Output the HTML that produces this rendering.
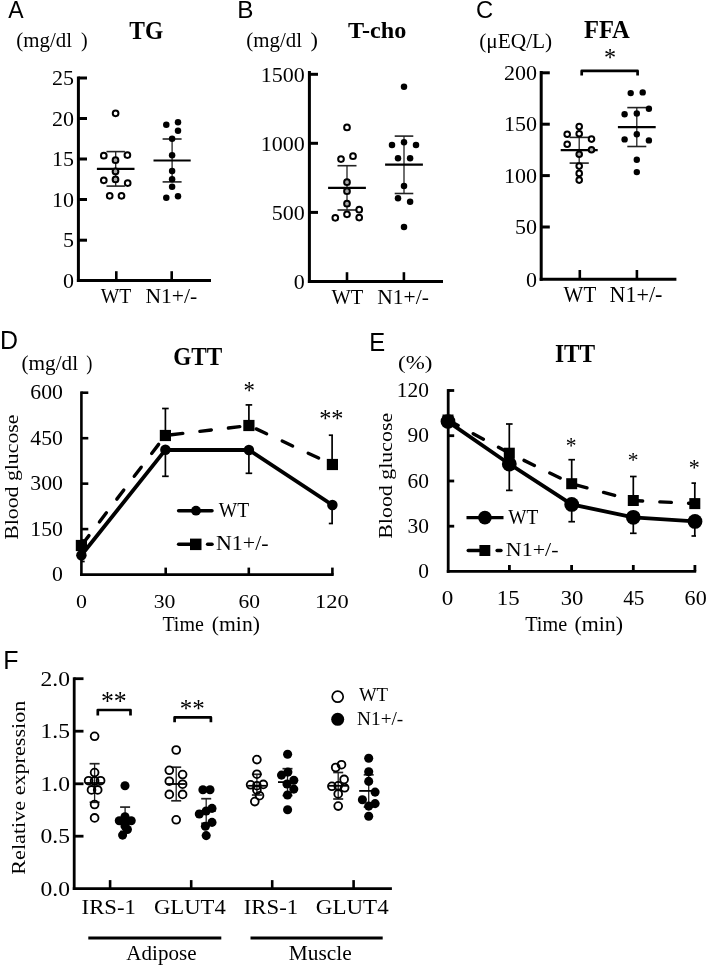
<!DOCTYPE html>
<html><head><meta charset="utf-8"><style>
html,body{margin:0;padding:0;background:#fff;}
body{width:708px;height:966px;overflow:hidden;}
svg{display:block;will-change:transform;}
text{fill:#000;}
</style></head><body>
<svg width="708" height="966" viewBox="0 0 708 966" stroke-linecap="butt">
<rect width="708" height="966" fill="#fff"/>
<text x="8.20" y="18.40" font-family="'Liberation Sans', sans-serif" font-size="24.78" textLength="15.35" lengthAdjust="spacingAndGlyphs">A</text>
<text x="16.36" y="47.20" font-family="'Liberation Serif', serif" font-size="20.00" textLength="55.68" lengthAdjust="spacingAndGlyphs">(mg/dl</text>
<text x="81.10" y="47.20" font-family="'Liberation Serif', serif" font-size="20.00">)</text>
<text x="129.35" y="38.86" font-family="'Liberation Serif', serif" font-size="24.48" font-weight="bold" textLength="33.95" lengthAdjust="spacingAndGlyphs">TG</text>
<line x1="78.40" y1="76.50" x2="78.40" y2="282.00" stroke="#000" stroke-width="3.0"/>
<line x1="76.90" y1="280.50" x2="211.00" y2="280.50" stroke="#000" stroke-width="3.0"/>
<line x1="78.40" y1="78.00" x2="87.00" y2="78.00" stroke="#000" stroke-width="3.0"/>
<text x="51.88" y="85.15" font-family="'Liberation Serif', serif" font-size="22.00">25</text>
<line x1="78.40" y1="118.50" x2="87.00" y2="118.50" stroke="#000" stroke-width="3.0"/>
<text x="51.88" y="125.70" font-family="'Liberation Serif', serif" font-size="22.00">20</text>
<line x1="78.40" y1="159.00" x2="87.00" y2="159.00" stroke="#000" stroke-width="3.0"/>
<text x="51.88" y="166.15" font-family="'Liberation Serif', serif" font-size="22.00">15</text>
<line x1="78.40" y1="199.50" x2="87.00" y2="199.50" stroke="#000" stroke-width="3.0"/>
<text x="51.88" y="206.71" font-family="'Liberation Serif', serif" font-size="22.00">10</text>
<line x1="78.40" y1="240.20" x2="87.00" y2="240.20" stroke="#000" stroke-width="3.0"/>
<text x="62.88" y="247.29" font-family="'Liberation Serif', serif" font-size="22.00">5</text>
<text x="62.88" y="287.70" font-family="'Liberation Serif', serif" font-size="22.00">0</text>
<line x1="116.30" y1="280.50" x2="116.30" y2="271.20" stroke="#000" stroke-width="2.6"/>
<line x1="171.70" y1="280.50" x2="171.70" y2="271.20" stroke="#000" stroke-width="2.6"/>
<text x="100.80" y="303.28" font-family="'Liberation Serif', serif" font-size="21.64" textLength="30.59" lengthAdjust="spacingAndGlyphs">WT</text>
<text x="145.45" y="303.38" font-family="'Liberation Serif', serif" font-size="21.64">N1+/-</text>
<line x1="115.70" y1="151.60" x2="115.70" y2="186.10" stroke="#222" stroke-width="1.3"/>
<line x1="106.50" y1="151.60" x2="124.90" y2="151.60" stroke="#222" stroke-width="1.6"/>
<line x1="106.50" y1="186.10" x2="124.90" y2="186.10" stroke="#222" stroke-width="1.6"/>
<line x1="96.90" y1="168.80" x2="134.50" y2="168.80" stroke="#000" stroke-width="2.2"/>
<circle cx="115.60" cy="113.30" r="2.85" fill="none" stroke="#000" stroke-width="2.0"/>
<circle cx="103.80" cy="155.70" r="2.85" fill="none" stroke="#000" stroke-width="2.0"/>
<circle cx="127.40" cy="155.10" r="2.85" fill="none" stroke="#000" stroke-width="2.0"/>
<circle cx="115.50" cy="160.20" r="2.85" fill="#aaa" stroke="#000" stroke-width="2.0"/>
<circle cx="115.50" cy="171.40" r="2.85" fill="#aaa" stroke="#000" stroke-width="2.0"/>
<circle cx="115.50" cy="179.40" r="2.85" fill="#aaa" stroke="#000" stroke-width="2.0"/>
<circle cx="103.80" cy="180.30" r="2.85" fill="none" stroke="#000" stroke-width="2.0"/>
<circle cx="127.70" cy="183.10" r="2.85" fill="none" stroke="#000" stroke-width="2.0"/>
<circle cx="109.70" cy="195.80" r="2.85" fill="none" stroke="#000" stroke-width="2.0"/>
<circle cx="121.50" cy="195.80" r="2.85" fill="none" stroke="#000" stroke-width="2.0"/>
<line x1="172.10" y1="139.00" x2="172.10" y2="181.90" stroke="#222" stroke-width="1.3"/>
<line x1="162.60" y1="139.00" x2="181.60" y2="139.00" stroke="#222" stroke-width="1.6"/>
<line x1="162.60" y1="181.90" x2="181.60" y2="181.90" stroke="#222" stroke-width="1.6"/>
<line x1="153.50" y1="160.50" x2="190.70" y2="160.50" stroke="#000" stroke-width="2.2"/>
<circle cx="166.30" cy="124.80" r="3.25" fill="#000" stroke="none" stroke-width="0"/>
<circle cx="178.00" cy="122.30" r="3.25" fill="#000" stroke="none" stroke-width="0"/>
<circle cx="178.00" cy="130.80" r="3.25" fill="#000" stroke="none" stroke-width="0"/>
<circle cx="172.10" cy="138.80" r="3.25" fill="#000" stroke="none" stroke-width="0"/>
<circle cx="172.10" cy="155.20" r="3.25" fill="#000" stroke="none" stroke-width="0"/>
<circle cx="172.10" cy="170.90" r="3.25" fill="#000" stroke="none" stroke-width="0"/>
<circle cx="172.10" cy="179.30" r="3.25" fill="#000" stroke="none" stroke-width="0"/>
<circle cx="172.10" cy="186.70" r="3.25" fill="#000" stroke="none" stroke-width="0"/>
<circle cx="166.30" cy="197.70" r="3.25" fill="#000" stroke="none" stroke-width="0"/>
<circle cx="178.00" cy="196.30" r="3.25" fill="#000" stroke="none" stroke-width="0"/>
<text x="237.36" y="18.40" font-family="'Liberation Sans', sans-serif" font-size="24.78" textLength="16.21" lengthAdjust="spacingAndGlyphs">B</text>
<text x="246.36" y="46.88" font-family="'Liberation Serif', serif" font-size="20.55" textLength="55.68" lengthAdjust="spacingAndGlyphs">(mg/dl</text>
<text x="310.43" y="46.88" font-family="'Liberation Serif', serif" font-size="20.55" textLength="7.43" lengthAdjust="spacingAndGlyphs">)</text>
<text x="348.04" y="37.97" font-family="'Liberation Serif', serif" font-size="23.12" font-weight="bold" textLength="58.29" lengthAdjust="spacingAndGlyphs">T-cho</text>
<line x1="309.40" y1="71.00" x2="309.40" y2="283.00" stroke="#000" stroke-width="3.0"/>
<line x1="307.90" y1="281.50" x2="443.00" y2="281.50" stroke="#000" stroke-width="3.0"/>
<line x1="309.40" y1="74.30" x2="318.00" y2="74.30" stroke="#000" stroke-width="3.0"/>
<text x="260.68" y="81.50" font-family="'Liberation Serif', serif" font-size="22.00">1500</text>
<line x1="309.40" y1="143.30" x2="318.00" y2="143.30" stroke="#000" stroke-width="3.0"/>
<text x="260.68" y="150.51" font-family="'Liberation Serif', serif" font-size="22.00">1000</text>
<line x1="309.40" y1="212.40" x2="318.00" y2="212.40" stroke="#000" stroke-width="3.0"/>
<text x="271.68" y="219.61" font-family="'Liberation Serif', serif" font-size="22.00">500</text>
<text x="293.68" y="288.70" font-family="'Liberation Serif', serif" font-size="22.00">0</text>
<line x1="347.00" y1="281.50" x2="347.00" y2="272.20" stroke="#000" stroke-width="2.6"/>
<line x1="403.90" y1="281.50" x2="403.90" y2="272.20" stroke="#000" stroke-width="2.6"/>
<text x="331.40" y="304.28" font-family="'Liberation Serif', serif" font-size="21.49" textLength="31.80" lengthAdjust="spacingAndGlyphs">WT</text>
<text x="377.35" y="304.39" font-family="'Liberation Serif', serif" font-size="21.49">N1+/-</text>
<line x1="347.00" y1="165.70" x2="347.00" y2="210.00" stroke="#222" stroke-width="1.3"/>
<line x1="337.50" y1="165.70" x2="356.50" y2="165.70" stroke="#222" stroke-width="1.6"/>
<line x1="337.50" y1="210.00" x2="356.50" y2="210.00" stroke="#222" stroke-width="1.6"/>
<line x1="328.10" y1="187.90" x2="365.90" y2="187.90" stroke="#000" stroke-width="2.2"/>
<circle cx="347.00" cy="127.40" r="2.85" fill="none" stroke="#000" stroke-width="2.0"/>
<circle cx="341.00" cy="159.10" r="2.85" fill="none" stroke="#000" stroke-width="2.0"/>
<circle cx="353.00" cy="156.20" r="2.85" fill="none" stroke="#000" stroke-width="2.0"/>
<circle cx="347.00" cy="182.20" r="2.85" fill="#aaa" stroke="#000" stroke-width="2.0"/>
<circle cx="347.00" cy="191.20" r="2.85" fill="#aaa" stroke="#000" stroke-width="2.0"/>
<circle cx="347.00" cy="203.70" r="2.85" fill="#aaa" stroke="#000" stroke-width="2.0"/>
<circle cx="347.00" cy="214.30" r="2.85" fill="none" stroke="#000" stroke-width="2.0"/>
<circle cx="335.30" cy="217.80" r="2.85" fill="none" stroke="#000" stroke-width="2.0"/>
<circle cx="359.20" cy="209.70" r="2.85" fill="none" stroke="#000" stroke-width="2.0"/>
<circle cx="359.20" cy="217.60" r="2.85" fill="none" stroke="#000" stroke-width="2.0"/>
<line x1="404.00" y1="136.10" x2="404.00" y2="193.50" stroke="#222" stroke-width="1.3"/>
<line x1="394.70" y1="136.10" x2="413.30" y2="136.10" stroke="#222" stroke-width="1.6"/>
<line x1="394.70" y1="193.50" x2="413.30" y2="193.50" stroke="#222" stroke-width="1.6"/>
<line x1="385.10" y1="164.60" x2="422.90" y2="164.60" stroke="#000" stroke-width="2.2"/>
<circle cx="404.00" cy="86.70" r="3.25" fill="#000" stroke="none" stroke-width="0"/>
<circle cx="392.00" cy="144.90" r="3.25" fill="#000" stroke="none" stroke-width="0"/>
<circle cx="404.00" cy="142.20" r="3.25" fill="#000" stroke="none" stroke-width="0"/>
<circle cx="416.00" cy="144.90" r="3.25" fill="#000" stroke="none" stroke-width="0"/>
<circle cx="398.00" cy="158.20" r="3.25" fill="#000" stroke="none" stroke-width="0"/>
<circle cx="410.10" cy="158.20" r="3.25" fill="#000" stroke="none" stroke-width="0"/>
<circle cx="404.00" cy="186.10" r="3.25" fill="#000" stroke="none" stroke-width="0"/>
<circle cx="398.00" cy="198.30" r="3.25" fill="#000" stroke="none" stroke-width="0"/>
<circle cx="410.10" cy="201.80" r="3.25" fill="#000" stroke="none" stroke-width="0"/>
<circle cx="404.00" cy="227.10" r="3.25" fill="#000" stroke="none" stroke-width="0"/>
<text x="476.01" y="18.45" font-family="'Liberation Sans', sans-serif" font-size="24.51" textLength="17.17" lengthAdjust="spacingAndGlyphs">C</text>
<text x="479.24" y="47.52" font-family="'Liberation Serif', serif" font-size="21.32">(μEQ/L)</text>
<text x="583.93" y="38.10" font-family="'Liberation Serif', serif" font-size="24.55" font-weight="bold">FFA</text>
<text x="603.89" y="66.15" font-family="'Liberation Serif', serif" font-size="24.66" textLength="12.12" lengthAdjust="spacingAndGlyphs">*</text>
<path d="M581.7,75.6 L581.7,70.9 L637.6,70.9 L637.6,75.6" stroke="#000" stroke-width="2.7" fill="none" stroke-linejoin="round"/>
<line x1="541.20" y1="71.00" x2="541.20" y2="280.80" stroke="#000" stroke-width="3.0"/>
<line x1="539.70" y1="279.30" x2="676.40" y2="279.30" stroke="#000" stroke-width="3.0"/>
<line x1="541.20" y1="72.80" x2="549.80" y2="72.80" stroke="#000" stroke-width="3.0"/>
<text x="504.08" y="80.00" font-family="'Liberation Serif', serif" font-size="22.00">200</text>
<line x1="541.20" y1="124.20" x2="549.80" y2="124.20" stroke="#000" stroke-width="3.0"/>
<text x="504.08" y="131.41" font-family="'Liberation Serif', serif" font-size="22.00">150</text>
<line x1="541.20" y1="175.60" x2="549.80" y2="175.60" stroke="#000" stroke-width="3.0"/>
<text x="504.08" y="182.81" font-family="'Liberation Serif', serif" font-size="22.00">100</text>
<line x1="541.20" y1="227.00" x2="549.80" y2="227.00" stroke="#000" stroke-width="3.0"/>
<text x="515.08" y="234.21" font-family="'Liberation Serif', serif" font-size="22.00">50</text>
<text x="526.08" y="286.50" font-family="'Liberation Serif', serif" font-size="22.00">0</text>
<line x1="579.80" y1="279.30" x2="579.80" y2="270.00" stroke="#000" stroke-width="2.6"/>
<line x1="636.90" y1="279.30" x2="636.90" y2="270.00" stroke="#000" stroke-width="2.6"/>
<text x="563.60" y="301.96" font-family="'Liberation Serif', serif" font-size="22.54" textLength="32.61" lengthAdjust="spacingAndGlyphs">WT</text>
<text x="609.54" y="302.07" font-family="'Liberation Serif', serif" font-size="22.54" textLength="52.88" lengthAdjust="spacingAndGlyphs">N1+/-</text>
<line x1="579.20" y1="137.40" x2="579.20" y2="163.10" stroke="#222" stroke-width="1.3"/>
<line x1="569.60" y1="137.40" x2="588.80" y2="137.40" stroke="#222" stroke-width="1.6"/>
<line x1="569.60" y1="163.10" x2="588.80" y2="163.10" stroke="#222" stroke-width="1.6"/>
<line x1="560.70" y1="150.10" x2="597.70" y2="150.10" stroke="#000" stroke-width="2.2"/>
<circle cx="579.20" cy="126.60" r="2.80" fill="none" stroke="#000" stroke-width="2.0"/>
<circle cx="567.20" cy="134.30" r="2.80" fill="none" stroke="#000" stroke-width="2.0"/>
<circle cx="579.20" cy="133.80" r="2.80" fill="none" stroke="#000" stroke-width="2.0"/>
<circle cx="591.50" cy="139.10" r="2.80" fill="none" stroke="#000" stroke-width="2.0"/>
<circle cx="567.20" cy="144.30" r="2.80" fill="none" stroke="#000" stroke-width="2.0"/>
<circle cx="591.50" cy="149.80" r="2.80" fill="#aaa" stroke="#000" stroke-width="2.0"/>
<circle cx="579.20" cy="154.20" r="2.80" fill="#aaa" stroke="#000" stroke-width="2.0"/>
<circle cx="579.20" cy="166.10" r="2.80" fill="none" stroke="#000" stroke-width="2.0"/>
<circle cx="579.20" cy="173.40" r="2.80" fill="none" stroke="#000" stroke-width="2.0"/>
<circle cx="579.20" cy="180.10" r="2.80" fill="none" stroke="#000" stroke-width="2.0"/>
<line x1="636.80" y1="107.60" x2="636.80" y2="146.50" stroke="#222" stroke-width="1.3"/>
<line x1="627.30" y1="107.60" x2="646.30" y2="107.60" stroke="#222" stroke-width="1.6"/>
<line x1="627.30" y1="146.50" x2="646.30" y2="146.50" stroke="#222" stroke-width="1.6"/>
<line x1="617.90" y1="127.10" x2="655.70" y2="127.10" stroke="#000" stroke-width="2.2"/>
<circle cx="630.70" cy="93.10" r="3.20" fill="#000" stroke="none" stroke-width="0"/>
<circle cx="642.70" cy="92.40" r="3.20" fill="#000" stroke="none" stroke-width="0"/>
<circle cx="648.90" cy="108.80" r="3.20" fill="#000" stroke="none" stroke-width="0"/>
<circle cx="624.60" cy="114.30" r="3.20" fill="#000" stroke="none" stroke-width="0"/>
<circle cx="636.80" cy="113.50" r="3.20" fill="#000" stroke="none" stroke-width="0"/>
<circle cx="624.60" cy="139.40" r="3.20" fill="#000" stroke="none" stroke-width="0"/>
<circle cx="636.80" cy="134.20" r="3.20" fill="#000" stroke="none" stroke-width="0"/>
<circle cx="648.90" cy="140.40" r="3.20" fill="#000" stroke="none" stroke-width="0"/>
<circle cx="636.80" cy="159.80" r="3.20" fill="#000" stroke="none" stroke-width="0"/>
<circle cx="636.80" cy="172.10" r="3.20" fill="#000" stroke="none" stroke-width="0"/>
<text x="0.10" y="348.60" font-family="'Liberation Sans', sans-serif" font-size="24.93">D</text>
<text x="21.44" y="370.13" font-family="'Liberation Serif', serif" font-size="20.77" textLength="56.61" lengthAdjust="spacingAndGlyphs">(mg/dl</text>
<text x="86.25" y="370.13" font-family="'Liberation Serif', serif" font-size="20.77" textLength="6.15" lengthAdjust="spacingAndGlyphs">)</text>
<text x="173.14" y="364.96" font-family="'Liberation Serif', serif" font-size="24.48" font-weight="bold" textLength="49.05" lengthAdjust="spacingAndGlyphs">GTT</text>
<line x1="81.40" y1="391.40" x2="81.40" y2="575.90" stroke="#000" stroke-width="2.6"/>
<line x1="80.10" y1="574.60" x2="333.70" y2="574.60" stroke="#000" stroke-width="2.6"/>
<line x1="81.40" y1="392.70" x2="88.30" y2="392.70" stroke="#000" stroke-width="2.6"/>
<text x="30.29" y="399.35" font-family="'Liberation Serif', serif" font-size="20.30" textLength="32.58" lengthAdjust="spacingAndGlyphs">600</text>
<line x1="81.40" y1="438.20" x2="88.30" y2="438.20" stroke="#000" stroke-width="2.6"/>
<text x="30.29" y="444.85" font-family="'Liberation Serif', serif" font-size="20.30" textLength="32.58" lengthAdjust="spacingAndGlyphs">450</text>
<line x1="81.40" y1="483.65" x2="88.30" y2="483.65" stroke="#000" stroke-width="2.6"/>
<text x="30.29" y="490.30" font-family="'Liberation Serif', serif" font-size="20.30" textLength="32.58" lengthAdjust="spacingAndGlyphs">300</text>
<line x1="81.40" y1="529.10" x2="88.30" y2="529.10" stroke="#000" stroke-width="2.6"/>
<text x="30.29" y="535.75" font-family="'Liberation Serif', serif" font-size="20.30" textLength="32.58" lengthAdjust="spacingAndGlyphs">150</text>
<text x="52.01" y="581.25" font-family="'Liberation Serif', serif" font-size="20.30" textLength="10.86" lengthAdjust="spacingAndGlyphs">0</text>
<line x1="165.70" y1="574.60" x2="165.70" y2="567.60" stroke="#000" stroke-width="2.6"/>
<line x1="248.80" y1="574.60" x2="248.80" y2="567.60" stroke="#000" stroke-width="2.6"/>
<line x1="332.40" y1="574.60" x2="332.40" y2="567.60" stroke="#000" stroke-width="2.6"/>
<text x="76.12" y="607.60" font-family="'Liberation Serif', serif" font-size="19.56" textLength="10.95" lengthAdjust="spacingAndGlyphs">0</text>
<text x="153.72" y="607.60" font-family="'Liberation Serif', serif" font-size="19.56" textLength="21.75" lengthAdjust="spacingAndGlyphs">30</text>
<text x="238.54" y="607.60" font-family="'Liberation Serif', serif" font-size="19.56" textLength="21.52" lengthAdjust="spacingAndGlyphs">60</text>
<text x="315.10" y="607.60" font-family="'Liberation Serif', serif" font-size="19.56" textLength="33.60" lengthAdjust="spacingAndGlyphs">120</text>
<text x="162.40" y="631.39" font-family="'Liberation Serif', serif" font-size="21.49" textLength="41.40" lengthAdjust="spacingAndGlyphs">Time</text>
<text x="211.83" y="630.88" font-family="'Liberation Serif', serif" font-size="20.55" textLength="48.08" lengthAdjust="spacingAndGlyphs">(min)</text>
<text transform="translate(17.79,539.75) rotate(-90)" x="0" y="0" font-family="'Liberation Serif', serif" font-size="19.56" textLength="125.20" lengthAdjust="spacingAndGlyphs">Blood glucose</text>
<svg x="0" y="0" width="708" height="966" overflow="hidden"><clipPath id="cpD"><rect x="81.1" y="380" width="251.8" height="200"/></clipPath><g clip-path="url(#cpD)">
<line x1="165.40" y1="435.50" x2="165.40" y2="408.50" stroke="#000" stroke-width="1.7"/>
<line x1="162.10" y1="408.50" x2="168.70" y2="408.50" stroke="#000" stroke-width="1.7"/>
<line x1="165.40" y1="449.80" x2="165.40" y2="476.30" stroke="#000" stroke-width="1.7"/>
<line x1="162.10" y1="476.30" x2="168.70" y2="476.30" stroke="#000" stroke-width="1.7"/>
<line x1="248.90" y1="425.50" x2="248.90" y2="404.90" stroke="#000" stroke-width="1.7"/>
<line x1="245.60" y1="404.90" x2="252.20" y2="404.90" stroke="#000" stroke-width="1.7"/>
<line x1="248.90" y1="450.00" x2="248.90" y2="473.30" stroke="#000" stroke-width="1.7"/>
<line x1="245.60" y1="473.30" x2="252.20" y2="473.30" stroke="#000" stroke-width="1.7"/>
<line x1="332.10" y1="464.50" x2="332.10" y2="435.20" stroke="#000" stroke-width="1.7"/>
<line x1="328.80" y1="435.20" x2="335.40" y2="435.20" stroke="#000" stroke-width="1.7"/>
<line x1="332.10" y1="505.00" x2="332.10" y2="523.50" stroke="#000" stroke-width="1.7"/>
<line x1="328.80" y1="523.50" x2="335.40" y2="523.50" stroke="#000" stroke-width="1.7"/>
<line x1="81.40" y1="555.20" x2="81.40" y2="561.50" stroke="#000" stroke-width="1.7"/>
<line x1="78.10" y1="561.50" x2="84.70" y2="561.50" stroke="#000" stroke-width="1.7"/>
<line x1="81.40" y1="545.50" x2="81.40" y2="540.00" stroke="#000" stroke-width="1.7"/>
<line x1="78.10" y1="540.00" x2="84.70" y2="540.00" stroke="#000" stroke-width="1.7"/>
</g></svg>
<path d="M81.4,545.5 L165.4,435.5 L248.9,425.5 L332.4,464.5" stroke="#000" stroke-width="3.4" fill="none" stroke-dasharray="11.5 17.2" stroke-linecap="round" stroke-dashoffset="-0.95"/>
<path d="M81.4,555.2 L165.4,449.8 L248.9,450 L332.4,505" stroke="#000" stroke-width="3.8" fill="none"/>
<rect x="75.80" y="539.90" width="11.20" height="11.20" fill="#000"/>
<rect x="159.80" y="429.90" width="11.20" height="11.20" fill="#000"/>
<rect x="243.30" y="419.90" width="11.20" height="11.20" fill="#000"/>
<rect x="326.80" y="458.90" width="11.20" height="11.20" fill="#000"/>
<circle cx="81.40" cy="555.20" r="5.25" fill="#000" stroke="none" stroke-width="0"/>
<circle cx="165.40" cy="449.80" r="5.25" fill="#000" stroke="none" stroke-width="0"/>
<circle cx="248.90" cy="450.00" r="5.25" fill="#000" stroke="none" stroke-width="0"/>
<circle cx="332.40" cy="505.00" r="5.25" fill="#000" stroke="none" stroke-width="0"/>
<text x="243.56" y="398.53" font-family="'Liberation Serif', serif" font-size="24.93" textLength="11.38" lengthAdjust="spacingAndGlyphs">*</text>
<text x="319.18" y="426.65" font-family="'Liberation Serif', serif" font-size="24.66" textLength="24.33" lengthAdjust="spacingAndGlyphs">**</text>
<line x1="178.60" y1="510.70" x2="212.00" y2="510.70" stroke="#000" stroke-width="3.5" stroke-linecap="round"/>
<circle cx="196.00" cy="510.70" r="4.90" fill="#000" stroke="none" stroke-width="0"/>
<text x="218.80" y="516.58" font-family="'Liberation Serif', serif" font-size="21.64" textLength="30.29" lengthAdjust="spacingAndGlyphs">WT</text>
<line x1="178.60" y1="544.30" x2="190.20" y2="544.30" stroke="#000" stroke-width="3.5" stroke-linecap="round"/>
<line x1="207.60" y1="544.30" x2="212.00" y2="544.30" stroke="#000" stroke-width="3.5" stroke-linecap="round"/>
<rect x="190.00" y="538.60" width="11.50" height="11.50" fill="#000"/>
<text x="216.04" y="550.08" font-family="'Liberation Serif', serif" font-size="21.94">N1+/-</text>
<text x="369.19" y="350.80" font-family="'Liberation Sans', sans-serif" font-size="25.22" textLength="15.91" lengthAdjust="spacingAndGlyphs">E</text>
<text x="398.07" y="368.99" font-family="'Liberation Serif', serif" font-size="19.12" textLength="34.34" lengthAdjust="spacingAndGlyphs">(%)</text>
<text x="554.88" y="361.70" font-family="'Liberation Serif', serif" font-size="25.95" font-weight="bold" textLength="40.35" lengthAdjust="spacingAndGlyphs">ITT</text>
<line x1="448.20" y1="389.10" x2="448.20" y2="572.80" stroke="#000" stroke-width="2.8"/>
<line x1="446.80" y1="571.40" x2="696.20" y2="571.40" stroke="#000" stroke-width="2.8"/>
<line x1="448.20" y1="390.50" x2="454.20" y2="390.50" stroke="#000" stroke-width="2.8"/>
<text x="396.83" y="397.18" font-family="'Liberation Serif', serif" font-size="20.40" textLength="32.13" lengthAdjust="spacingAndGlyphs">120</text>
<line x1="448.20" y1="435.70" x2="454.20" y2="435.70" stroke="#000" stroke-width="2.8"/>
<text x="407.54" y="442.38" font-family="'Liberation Serif', serif" font-size="20.40" textLength="21.42" lengthAdjust="spacingAndGlyphs">90</text>
<line x1="448.20" y1="481.00" x2="454.20" y2="481.00" stroke="#000" stroke-width="2.8"/>
<text x="407.54" y="487.68" font-family="'Liberation Serif', serif" font-size="20.40" textLength="21.42" lengthAdjust="spacingAndGlyphs">60</text>
<line x1="448.20" y1="526.20" x2="454.20" y2="526.20" stroke="#000" stroke-width="2.8"/>
<text x="407.54" y="532.88" font-family="'Liberation Serif', serif" font-size="20.40" textLength="21.42" lengthAdjust="spacingAndGlyphs">30</text>
<text x="418.25" y="578.08" font-family="'Liberation Serif', serif" font-size="20.40" textLength="10.71" lengthAdjust="spacingAndGlyphs">0</text>
<line x1="509.40" y1="571.40" x2="509.40" y2="565.00" stroke="#000" stroke-width="2.8"/>
<line x1="571.60" y1="571.40" x2="571.60" y2="565.00" stroke="#000" stroke-width="2.8"/>
<line x1="633.30" y1="571.40" x2="633.30" y2="565.00" stroke="#000" stroke-width="2.8"/>
<line x1="694.90" y1="571.40" x2="694.90" y2="565.00" stroke="#000" stroke-width="2.8"/>
<text x="441.68" y="605.20" font-family="'Liberation Serif', serif" font-size="20.00" textLength="11.55" lengthAdjust="spacingAndGlyphs">0</text>
<text x="496.76" y="605.20" font-family="'Liberation Serif', serif" font-size="20.15" textLength="22.86" lengthAdjust="spacingAndGlyphs">15</text>
<text x="560.78" y="605.20" font-family="'Liberation Serif', serif" font-size="20.00" textLength="22.62" lengthAdjust="spacingAndGlyphs">30</text>
<text x="623.17" y="605.20" font-family="'Liberation Serif', serif" font-size="20.15" textLength="21.28" lengthAdjust="spacingAndGlyphs">45</text>
<text x="684.62" y="605.20" font-family="'Liberation Serif', serif" font-size="20.00" textLength="22.07" lengthAdjust="spacingAndGlyphs">60</text>
<text x="525.20" y="630.99" font-family="'Liberation Serif', serif" font-size="21.19" textLength="41.91" lengthAdjust="spacingAndGlyphs">Time</text>
<text x="574.42" y="630.68" font-family="'Liberation Serif', serif" font-size="20.55" textLength="48.60" lengthAdjust="spacingAndGlyphs">(min)</text>
<text transform="translate(392.42,538.76) rotate(-90)" x="0" y="0" font-family="'Liberation Serif', serif" font-size="19.45" textLength="125.91" lengthAdjust="spacingAndGlyphs">Blood glucose</text>
<svg x="0" y="0" width="708" height="966" overflow="hidden"><clipPath id="cpE"><rect x="447.7" y="380" width="248.0" height="200"/></clipPath><g clip-path="url(#cpE)">
<line x1="448.00" y1="420.00" x2="448.00" y2="390.60" stroke="#000" stroke-width="1.7"/>
<line x1="444.70" y1="390.60" x2="451.30" y2="390.60" stroke="#000" stroke-width="1.7"/>
<line x1="509.30" y1="453.20" x2="509.30" y2="424.00" stroke="#000" stroke-width="1.7"/>
<line x1="506.00" y1="424.00" x2="512.60" y2="424.00" stroke="#000" stroke-width="1.7"/>
<line x1="509.30" y1="464.00" x2="509.30" y2="490.40" stroke="#000" stroke-width="1.7"/>
<line x1="506.00" y1="490.40" x2="512.60" y2="490.40" stroke="#000" stroke-width="1.7"/>
<line x1="571.70" y1="483.70" x2="571.70" y2="459.70" stroke="#000" stroke-width="1.7"/>
<line x1="568.40" y1="459.70" x2="575.00" y2="459.70" stroke="#000" stroke-width="1.7"/>
<line x1="571.70" y1="504.40" x2="571.70" y2="521.70" stroke="#000" stroke-width="1.7"/>
<line x1="568.40" y1="521.70" x2="575.00" y2="521.70" stroke="#000" stroke-width="1.7"/>
<line x1="633.30" y1="500.50" x2="633.30" y2="476.50" stroke="#000" stroke-width="1.7"/>
<line x1="630.00" y1="476.50" x2="636.60" y2="476.50" stroke="#000" stroke-width="1.7"/>
<line x1="633.30" y1="517.30" x2="633.30" y2="533.30" stroke="#000" stroke-width="1.7"/>
<line x1="630.00" y1="533.30" x2="636.60" y2="533.30" stroke="#000" stroke-width="1.7"/>
<line x1="694.80" y1="503.60" x2="694.80" y2="483.10" stroke="#000" stroke-width="1.7"/>
<line x1="691.50" y1="483.10" x2="698.10" y2="483.10" stroke="#000" stroke-width="1.7"/>
<line x1="694.80" y1="521.30" x2="694.80" y2="536.00" stroke="#000" stroke-width="1.7"/>
<line x1="691.50" y1="536.00" x2="698.10" y2="536.00" stroke="#000" stroke-width="1.7"/>
</g></svg>
<path d="M448,420 L509.3,453.2 L571.7,483.7 L633.3,500.5 L694.8,503.6" stroke="#000" stroke-width="3.4" fill="none" stroke-dasharray="11.5 17.2" stroke-linecap="round"/>
<path d="M448,421.6 L509.3,464 L571.7,504.4 L633.3,517.3 L695.0,521.4" stroke="#000" stroke-width="3.8" fill="none"/>
<rect x="442.50" y="414.50" width="11.00" height="11.00" fill="#000"/>
<rect x="503.80" y="447.70" width="11.00" height="11.00" fill="#000"/>
<rect x="566.20" y="478.20" width="11.00" height="11.00" fill="#000"/>
<rect x="627.80" y="495.00" width="11.00" height="11.00" fill="#000"/>
<rect x="689.30" y="498.10" width="11.00" height="11.00" fill="#000"/>
<circle cx="448.00" cy="421.60" r="7.40" fill="#000" stroke="none" stroke-width="0"/>
<circle cx="509.30" cy="464.00" r="7.40" fill="#000" stroke="none" stroke-width="0"/>
<circle cx="571.70" cy="504.40" r="7.40" fill="#000" stroke="none" stroke-width="0"/>
<circle cx="633.30" cy="517.30" r="7.40" fill="#000" stroke="none" stroke-width="0"/>
<circle cx="695.00" cy="521.40" r="7.40" fill="#000" stroke="none" stroke-width="0"/>
<text x="565.73" y="452.67" font-family="'Liberation Serif', serif" font-size="23.01" textLength="10.75" lengthAdjust="spacingAndGlyphs">*</text>
<text x="627.73" y="467.36" font-family="'Liberation Serif', serif" font-size="21.92" textLength="10.75" lengthAdjust="spacingAndGlyphs">*</text>
<text x="688.70" y="474.85" font-family="'Liberation Serif', serif" font-size="23.29" textLength="11.00" lengthAdjust="spacingAndGlyphs">*</text>
<line x1="466.50" y1="517.60" x2="503.50" y2="517.60" stroke="#000" stroke-width="3.4"/>
<circle cx="484.90" cy="517.60" r="6.80" fill="#000" stroke="none" stroke-width="0"/>
<text x="508.20" y="523.99" font-family="'Liberation Serif', serif" font-size="20.75" textLength="30.08" lengthAdjust="spacingAndGlyphs">WT</text>
<line x1="468.20" y1="550.50" x2="479.40" y2="550.50" stroke="#000" stroke-width="3.4" stroke-linecap="round"/>
<line x1="497.10" y1="550.50" x2="501.00" y2="550.50" stroke="#000" stroke-width="3.4" stroke-linecap="round"/>
<rect x="479.40" y="545.00" width="10.90" height="11.00" fill="#000"/>
<text x="505.84" y="556.31" font-family="'Liberation Serif', serif" font-size="19.10" textLength="52.67" lengthAdjust="spacingAndGlyphs">N1+/-</text>
<text x="3.29" y="668.60" font-family="'Liberation Sans', sans-serif" font-size="24.93">F</text>
<line x1="74.20" y1="677.30" x2="74.20" y2="890.00" stroke="#000" stroke-width="2.8"/>
<line x1="72.80" y1="888.60" x2="391.90" y2="888.60" stroke="#000" stroke-width="2.8"/>
<line x1="74.20" y1="678.70" x2="83.50" y2="678.70" stroke="#000" stroke-width="2.8"/>
<text x="40.49" y="685.69" font-family="'Liberation Serif', serif" font-size="21.50" textLength="29.46" lengthAdjust="spacingAndGlyphs">2.0</text>
<line x1="74.20" y1="731.20" x2="83.50" y2="731.20" stroke="#000" stroke-width="2.8"/>
<text x="40.49" y="738.13" font-family="'Liberation Serif', serif" font-size="21.50" textLength="29.46" lengthAdjust="spacingAndGlyphs">1.5</text>
<line x1="74.20" y1="783.80" x2="83.50" y2="783.80" stroke="#000" stroke-width="2.8"/>
<text x="40.49" y="790.79" font-family="'Liberation Serif', serif" font-size="21.50" textLength="29.46" lengthAdjust="spacingAndGlyphs">1.0</text>
<line x1="74.20" y1="836.20" x2="83.50" y2="836.20" stroke="#000" stroke-width="2.8"/>
<text x="40.49" y="843.19" font-family="'Liberation Serif', serif" font-size="21.50" textLength="29.46" lengthAdjust="spacingAndGlyphs">0.5</text>
<text x="40.49" y="895.59" font-family="'Liberation Serif', serif" font-size="21.50" textLength="29.46" lengthAdjust="spacingAndGlyphs">0.0</text>
<line x1="110.10" y1="888.60" x2="110.10" y2="880.10" stroke="#000" stroke-width="2.6"/>
<line x1="191.20" y1="888.60" x2="191.20" y2="880.10" stroke="#000" stroke-width="2.6"/>
<line x1="272.20" y1="888.60" x2="272.20" y2="880.10" stroke="#000" stroke-width="2.6"/>
<line x1="353.60" y1="888.60" x2="353.60" y2="880.10" stroke="#000" stroke-width="2.6"/>
<text transform="translate(24.89,874.66) rotate(-90)" x="0" y="0" font-family="'Liberation Serif', serif" font-size="19.12" textLength="173.97" lengthAdjust="spacingAndGlyphs">Relative expression</text>
<path d="M97.8,715.6 L97.8,710 L130.5,710 L130.5,715.6" stroke="#000" stroke-width="2.7" fill="none" stroke-linejoin="round"/>
<text x="100.91" y="710.49" font-family="'Liberation Serif', serif" font-size="26.85" textLength="25.78" lengthAdjust="spacingAndGlyphs">**</text>
<path d="M174.6,722.3 L174.6,717.4 L210.9,717.4 L210.9,722.3" stroke="#000" stroke-width="2.7" fill="none" stroke-linejoin="round"/>
<text x="179.75" y="717.19" font-family="'Liberation Serif', serif" font-size="25.48" textLength="25.00" lengthAdjust="spacingAndGlyphs">**</text>
<circle cx="337.70" cy="696.70" r="5.50" fill="none" stroke="#000" stroke-width="1.7"/>
<circle cx="337.70" cy="719.30" r="6.50" fill="#000" stroke="none" stroke-width="0"/>
<text x="358.90" y="701.42" font-family="'Liberation Serif', serif" font-size="18.51" textLength="29.18" lengthAdjust="spacingAndGlyphs">WT</text>
<text x="357.12" y="724.71" font-family="'Liberation Serif', serif" font-size="19.25">N1+/-</text>
<text x="81.60" y="913.79" font-family="'Liberation Serif', serif" font-size="21.04" textLength="54.34" lengthAdjust="spacingAndGlyphs">IRS-1</text>
<text x="153.99" y="913.79" font-family="'Liberation Serif', serif" font-size="21.04" textLength="71.77" lengthAdjust="spacingAndGlyphs">GLUT4</text>
<text x="243.80" y="913.79" font-family="'Liberation Serif', serif" font-size="21.04" textLength="54.34" lengthAdjust="spacingAndGlyphs">IRS-1</text>
<text x="315.88" y="913.79" font-family="'Liberation Serif', serif" font-size="21.04" textLength="72.79" lengthAdjust="spacingAndGlyphs">GLUT4</text>
<line x1="88.30" y1="938.00" x2="221.30" y2="938.00" stroke="#000" stroke-width="3"/>
<line x1="250.50" y1="938.00" x2="382.70" y2="938.00" stroke="#000" stroke-width="3"/>
<text x="126.39" y="959.55" font-family="'Liberation Serif', serif" font-size="20.22" textLength="70.10" lengthAdjust="spacingAndGlyphs">Adipose</text>
<text x="288.76" y="959.99" font-family="'Liberation Serif', serif" font-size="20.85" textLength="62.96" lengthAdjust="spacingAndGlyphs">Muscle</text>
<line x1="94.60" y1="763.70" x2="94.60" y2="802.30" stroke="#222" stroke-width="1.3"/>
<line x1="89.60" y1="763.70" x2="99.60" y2="763.70" stroke="#222" stroke-width="1.7"/>
<line x1="89.60" y1="802.30" x2="99.60" y2="802.30" stroke="#222" stroke-width="1.7"/>
<circle cx="94.60" cy="736.30" r="3.90" fill="none" stroke="#000" stroke-width="1.85"/>
<circle cx="94.60" cy="772.60" r="3.90" fill="none" stroke="#000" stroke-width="1.85"/>
<circle cx="88.60" cy="780.70" r="3.90" fill="none" stroke="#000" stroke-width="1.85"/>
<circle cx="100.60" cy="780.70" r="3.90" fill="none" stroke="#000" stroke-width="1.85"/>
<circle cx="94.60" cy="781.00" r="3.90" fill="none" stroke="#000" stroke-width="1.85"/>
<circle cx="91.50" cy="789.90" r="3.90" fill="none" stroke="#000" stroke-width="1.85"/>
<circle cx="97.70" cy="789.90" r="3.90" fill="none" stroke="#000" stroke-width="1.85"/>
<circle cx="94.60" cy="804.50" r="3.90" fill="none" stroke="#000" stroke-width="1.85"/>
<circle cx="94.60" cy="817.90" r="3.90" fill="none" stroke="#000" stroke-width="1.85"/>
<line x1="85.10" y1="783.00" x2="104.10" y2="783.00" stroke="#000" stroke-width="1.8"/>
<line x1="125.10" y1="807.10" x2="125.10" y2="831.50" stroke="#222" stroke-width="1.3"/>
<line x1="120.10" y1="807.10" x2="130.10" y2="807.10" stroke="#222" stroke-width="1.7"/>
<line x1="120.10" y1="831.50" x2="130.10" y2="831.50" stroke="#222" stroke-width="1.7"/>
<circle cx="125.00" cy="785.70" r="4.55" fill="#000" stroke="none" stroke-width="0"/>
<circle cx="119.30" cy="820.80" r="4.55" fill="#000" stroke="none" stroke-width="0"/>
<circle cx="125.00" cy="816.70" r="4.55" fill="#000" stroke="none" stroke-width="0"/>
<circle cx="131.20" cy="820.80" r="4.55" fill="#000" stroke="none" stroke-width="0"/>
<circle cx="125.00" cy="822.00" r="4.55" fill="#000" stroke="none" stroke-width="0"/>
<circle cx="127.40" cy="829.50" r="4.55" fill="#000" stroke="none" stroke-width="0"/>
<circle cx="122.60" cy="835.10" r="4.55" fill="#000" stroke="none" stroke-width="0"/>
<circle cx="125.00" cy="826.00" r="4.55" fill="#000" stroke="none" stroke-width="0"/>
<line x1="115.60" y1="819.30" x2="134.60" y2="819.30" stroke="#000" stroke-width="1.8"/>
<line x1="176.20" y1="767.20" x2="176.20" y2="800.80" stroke="#222" stroke-width="1.3"/>
<line x1="171.20" y1="767.20" x2="181.20" y2="767.20" stroke="#222" stroke-width="1.7"/>
<line x1="171.20" y1="800.80" x2="181.20" y2="800.80" stroke="#222" stroke-width="1.7"/>
<circle cx="176.20" cy="750.00" r="3.90" fill="none" stroke="#000" stroke-width="1.85"/>
<circle cx="169.30" cy="770.30" r="3.90" fill="none" stroke="#000" stroke-width="1.85"/>
<circle cx="182.60" cy="774.60" r="3.90" fill="none" stroke="#000" stroke-width="1.85"/>
<circle cx="169.30" cy="781.20" r="3.90" fill="none" stroke="#000" stroke-width="1.85"/>
<circle cx="182.60" cy="784.20" r="3.90" fill="none" stroke="#000" stroke-width="1.85"/>
<circle cx="169.30" cy="794.40" r="3.90" fill="none" stroke="#000" stroke-width="1.85"/>
<circle cx="182.60" cy="794.40" r="3.90" fill="none" stroke="#000" stroke-width="1.85"/>
<circle cx="176.20" cy="819.80" r="3.90" fill="none" stroke="#000" stroke-width="1.85"/>
<line x1="166.70" y1="784.00" x2="185.70" y2="784.00" stroke="#000" stroke-width="1.8"/>
<line x1="206.20" y1="798.70" x2="206.20" y2="823.30" stroke="#222" stroke-width="1.3"/>
<line x1="201.20" y1="798.70" x2="211.20" y2="798.70" stroke="#222" stroke-width="1.7"/>
<line x1="201.20" y1="823.30" x2="211.20" y2="823.30" stroke="#222" stroke-width="1.7"/>
<circle cx="202.90" cy="789.80" r="4.55" fill="#000" stroke="none" stroke-width="0"/>
<circle cx="210.00" cy="789.80" r="4.55" fill="#000" stroke="none" stroke-width="0"/>
<circle cx="199.30" cy="814.00" r="4.55" fill="#000" stroke="none" stroke-width="0"/>
<circle cx="212.00" cy="808.40" r="4.55" fill="#000" stroke="none" stroke-width="0"/>
<circle cx="212.00" cy="822.40" r="4.55" fill="#000" stroke="none" stroke-width="0"/>
<circle cx="205.40" cy="826.20" r="4.55" fill="#000" stroke="none" stroke-width="0"/>
<circle cx="206.20" cy="835.60" r="4.55" fill="#000" stroke="none" stroke-width="0"/>
<circle cx="206.20" cy="811.00" r="4.55" fill="#000" stroke="none" stroke-width="0"/>
<line x1="196.70" y1="811.00" x2="215.70" y2="811.00" stroke="#000" stroke-width="1.8"/>
<line x1="256.90" y1="774.30" x2="256.90" y2="795.00" stroke="#222" stroke-width="1.3"/>
<line x1="251.90" y1="774.30" x2="261.90" y2="774.30" stroke="#222" stroke-width="1.7"/>
<line x1="251.90" y1="795.00" x2="261.90" y2="795.00" stroke="#222" stroke-width="1.7"/>
<circle cx="256.90" cy="759.60" r="3.90" fill="none" stroke="#000" stroke-width="1.85"/>
<circle cx="256.90" cy="774.20" r="3.90" fill="none" stroke="#000" stroke-width="1.85"/>
<circle cx="250.60" cy="784.80" r="3.90" fill="none" stroke="#000" stroke-width="1.85"/>
<circle cx="256.90" cy="785.70" r="3.90" fill="none" stroke="#000" stroke-width="1.85"/>
<circle cx="263.30" cy="784.40" r="3.90" fill="none" stroke="#000" stroke-width="1.85"/>
<circle cx="259.50" cy="795.70" r="3.90" fill="none" stroke="#000" stroke-width="1.85"/>
<circle cx="254.80" cy="801.60" r="3.90" fill="none" stroke="#000" stroke-width="1.85"/>
<circle cx="256.90" cy="790.00" r="3.90" fill="none" stroke="#000" stroke-width="1.85"/>
<line x1="247.40" y1="785.80" x2="266.40" y2="785.80" stroke="#000" stroke-width="1.8"/>
<line x1="287.50" y1="768.70" x2="287.50" y2="795.50" stroke="#222" stroke-width="1.3"/>
<line x1="282.50" y1="768.70" x2="292.50" y2="768.70" stroke="#222" stroke-width="1.7"/>
<line x1="282.50" y1="795.50" x2="292.50" y2="795.50" stroke="#222" stroke-width="1.7"/>
<circle cx="287.60" cy="754.30" r="4.55" fill="#000" stroke="none" stroke-width="0"/>
<circle cx="281.50" cy="775.10" r="4.55" fill="#000" stroke="none" stroke-width="0"/>
<circle cx="287.90" cy="772.10" r="4.55" fill="#000" stroke="none" stroke-width="0"/>
<circle cx="293.80" cy="780.20" r="4.55" fill="#000" stroke="none" stroke-width="0"/>
<circle cx="287.00" cy="784.00" r="4.55" fill="#000" stroke="none" stroke-width="0"/>
<circle cx="293.80" cy="789.10" r="4.55" fill="#000" stroke="none" stroke-width="0"/>
<circle cx="287.50" cy="795.00" r="4.55" fill="#000" stroke="none" stroke-width="0"/>
<circle cx="287.60" cy="809.80" r="4.55" fill="#000" stroke="none" stroke-width="0"/>
<line x1="278.00" y1="782.10" x2="297.00" y2="782.10" stroke="#000" stroke-width="1.8"/>
<line x1="338.20" y1="772.50" x2="338.20" y2="799.00" stroke="#222" stroke-width="1.3"/>
<line x1="333.20" y1="772.50" x2="343.20" y2="772.50" stroke="#222" stroke-width="1.7"/>
<line x1="333.20" y1="799.00" x2="343.20" y2="799.00" stroke="#222" stroke-width="1.7"/>
<circle cx="335.70" cy="767.50" r="3.90" fill="none" stroke="#000" stroke-width="1.85"/>
<circle cx="341.50" cy="764.70" r="3.90" fill="none" stroke="#000" stroke-width="1.85"/>
<circle cx="344.10" cy="779.40" r="3.90" fill="none" stroke="#000" stroke-width="1.85"/>
<circle cx="331.90" cy="786.30" r="3.90" fill="none" stroke="#000" stroke-width="1.85"/>
<circle cx="338.20" cy="785.80" r="3.90" fill="none" stroke="#000" stroke-width="1.85"/>
<circle cx="344.60" cy="787.80" r="3.90" fill="none" stroke="#000" stroke-width="1.85"/>
<circle cx="338.20" cy="793.90" r="3.90" fill="none" stroke="#000" stroke-width="1.85"/>
<circle cx="338.20" cy="806.10" r="3.90" fill="none" stroke="#000" stroke-width="1.85"/>
<line x1="328.70" y1="785.80" x2="347.70" y2="785.80" stroke="#000" stroke-width="1.8"/>
<line x1="368.70" y1="774.80" x2="368.70" y2="807.00" stroke="#222" stroke-width="1.3"/>
<line x1="363.70" y1="774.80" x2="373.70" y2="774.80" stroke="#222" stroke-width="1.7"/>
<line x1="363.70" y1="807.00" x2="373.70" y2="807.00" stroke="#222" stroke-width="1.7"/>
<circle cx="368.70" cy="758.30" r="4.55" fill="#000" stroke="none" stroke-width="0"/>
<circle cx="368.70" cy="771.80" r="4.55" fill="#000" stroke="none" stroke-width="0"/>
<circle cx="368.70" cy="781.40" r="4.55" fill="#000" stroke="none" stroke-width="0"/>
<circle cx="375.10" cy="792.10" r="4.55" fill="#000" stroke="none" stroke-width="0"/>
<circle cx="362.40" cy="799.80" r="4.55" fill="#000" stroke="none" stroke-width="0"/>
<circle cx="375.10" cy="803.60" r="4.55" fill="#000" stroke="none" stroke-width="0"/>
<circle cx="368.70" cy="806.10" r="4.55" fill="#000" stroke="none" stroke-width="0"/>
<circle cx="368.70" cy="816.30" r="4.55" fill="#000" stroke="none" stroke-width="0"/>
<line x1="359.20" y1="790.90" x2="378.20" y2="790.90" stroke="#000" stroke-width="1.8"/>
</svg>
</body></html>
